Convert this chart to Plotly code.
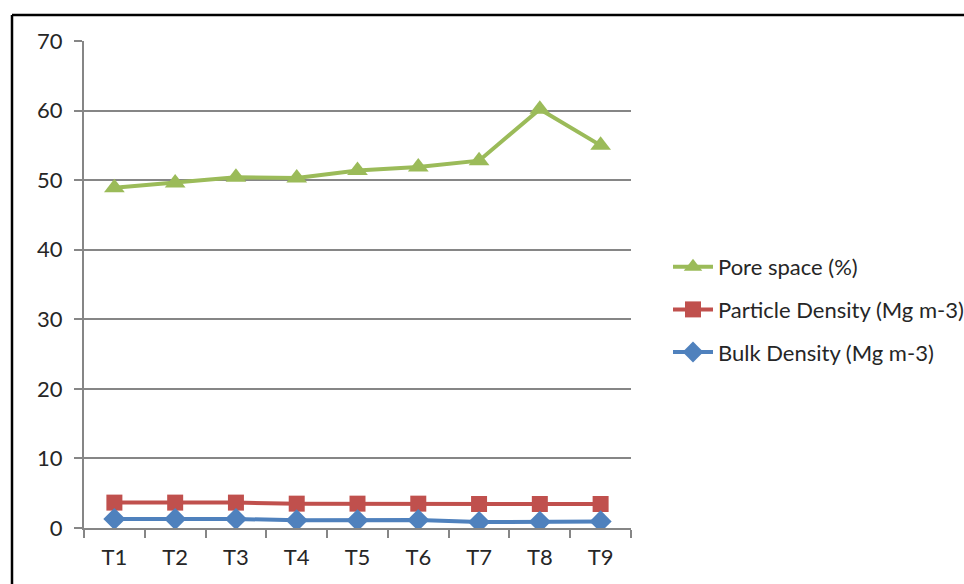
import plotly.graph_objects as go

categories = ["T1", "T2", "T3", "T4", "T5", "T6", "T7", "T8", "T9"]
pore_space = [48.9, 49.6, 50.4, 50.3, 51.4, 51.9, 52.8, 60.2, 55.0]
particle_density = [3.65, 3.65, 3.65, 3.5, 3.5, 3.5, 3.45, 3.45, 3.45]
bulk_density = [1.3, 1.3, 1.3, 1.1, 1.1, 1.15, 0.85, 0.9, 0.95]
y_ticks = [0, 10, 20, 30, 40, 50, 60, 70]

W, H = 964, 584
L, R, T, B = 84, 333, 41, 56
pw, ph = W - L - R, H - T - B

def px(x):
    return (x - L) / pw

def py(y):
    return (H - B - y) / ph

FONT = "Lato"
FS = 22
TXT = "#262626"
fig = go.Figure()
series = [
    ("Pore space (%)", pore_space, "#9BBB59", "triangle-up", 18),
    ("Particle Density (Mg m-3)", particle_density, "#C0504D", "square", 16),
    ("Bulk Density (Mg m-3)", bulk_density, "#4F81BD", "diamond", 17),
]
for name, vals, col, sym, sz in series:
    fig.add_trace(go.Scatter(
        x=categories, y=vals, name=name, mode="lines+markers",
        line=dict(color=col, width=4),
        marker=dict(symbol=sym, size=sz, color=col),
        legendgroup=name,
    ))

fig.update_layout(
    width=W, height=H,
    margin=dict(l=L, r=R, t=T, b=B, autoexpand=False),
    paper_bgcolor="white", plot_bgcolor="white",
    font=dict(family=FONT, size=FS, color=TXT),
    showlegend=True,
    legend=dict(xref="container", yref="container",
                x=668 / W, y=1 - 246 / H, xanchor="left", yanchor="top",
                font=dict(family=FONT, size=FS, color=TXT),
                tracegroupgap=11, bgcolor="rgba(0,0,0,0)", itemwidth=40),
    xaxis=dict(type="category", range=[-0.5, 8.5], showgrid=False,
               showline=True, linecolor="#868686", linewidth=2,
               ticks="outside", tickson="boundaries", ticklen=8,
               tickcolor="#868686", tickwidth=2, ticklabelstandoff=9,
               tickfont=dict(family=FONT, size=FS, color=TXT)),
    yaxis=dict(range=[0, 70], tickvals=y_ticks, showgrid=True,
               gridcolor="#868686", gridwidth=2, zeroline=False,
               showline=True, linecolor="#868686", linewidth=2,
               ticks="outside", ticklen=8, tickcolor="#868686", tickwidth=2,
               ticklabelstandoff=7,
               tickfont=dict(family=FONT, size=FS, color=TXT)),
    shapes=[
        dict(type="line", xref="paper", yref="paper", x0=px(12), x1=px(970),
             y0=py(15), y1=py(15), line=dict(color="black", width=2.5)),
        dict(type="line", xref="paper", yref="paper", x0=px(12), x1=px(12),
             y0=py(15), y1=py(600), line=dict(color="black", width=2.5)),
    ],
)
fig.write_html("out.html")
